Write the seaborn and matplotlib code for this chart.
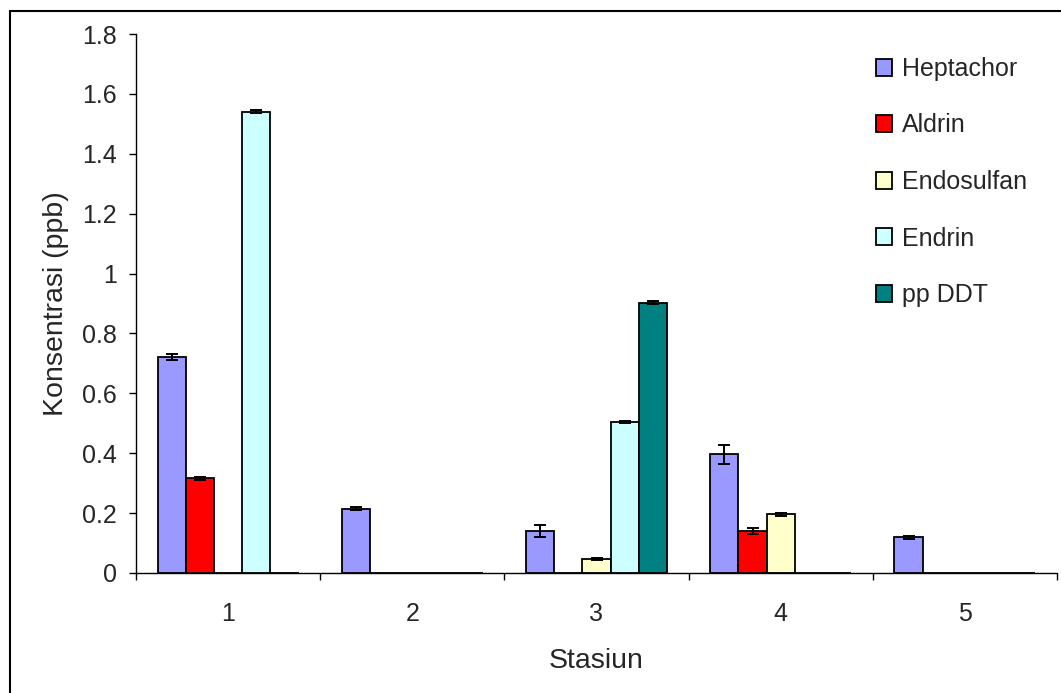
import matplotlib
matplotlib.use("Agg")
import matplotlib.pyplot as plt
import matplotlib.patches as mpatches
from matplotlib.ticker import FixedLocator, FuncFormatter
import pandas as pd
import seaborn as sns

# data
stasiun = ["1", "2", "3", "4", "5"]
pestisida = ["Heptachor", "Aldrin", "Endosulfan", "Endrin", "pp DDT"]
heptachor = [0.721, 0.214, 0.140, 0.397, 0.120]
aldrin = [0.316, 0.0, 0.0, 0.141, 0.0]
endosulfan = [0.0, 0.0, 0.047, 0.196, 0.0]
endrin = [1.54, 0.0, 0.503, 0.0, 0.0]
ppddt = [0.0, 0.0, 0.903, 0.0, 0.0]
# error (half range)
err_heptachor = [0.010, 0.005, 0.021, 0.032, 0.005]
err_aldrin = [0.006, 0.0, 0.0, 0.010, 0.0]
err_endosulfan = [0.0, 0.0, 0.003, 0.005, 0.0]
err_endrin = [0.005, 0.0, 0.003, 0.0, 0.0]
err_ppddt = [0.0, 0.0, 0.005, 0.0, 0.0]
warna = ["#9999FF", "#FF0000", "#FFFFCC", "#CCFFFF", "#008080"]

nilai = [heptachor, aldrin, endosulfan, endrin, ppddt]
galat = [err_heptachor, err_aldrin, err_endosulfan, err_endrin, err_ppddt]

rows = []
for p, vals in zip(pestisida, nilai):
    for s, v in zip(stasiun, vals):
        rows.append({"Stasiun": s, "Pestisida": p, "Konsentrasi": v})
dtf = pd.DataFrame(rows)

sns.set_style("white")
plt.rcParams["font.family"] = ["Liberation Sans", "DejaVu Sans"]

fig = plt.figure(figsize=(10.61, 6.93), dpi=100)
ax = fig.add_axes([136 / 1061, 1 - 573 / 693, (1057 - 136) / 1061, (573 - 34) / 693])

sns.barplot(data=dtf, x="Stasiun", y="Konsentrasi", hue="Pestisida",
            order=stasiun, hue_order=pestisida, palette=warna,
            width=0.765, gap=0, errorbar=None, edgecolor="black",
            linewidth=1.3, saturation=1, ax=ax, legend=False)

# error bars on top of the bars
for cont, errs in zip(ax.containers, galat):
    for bar, e in zip(cont, errs):
        if e > 0:
            ax.errorbar(bar.get_x() + bar.get_width() / 2, bar.get_height(), yerr=e,
                        fmt="none", ecolor="black", elinewidth=1.4,
                        capsize=4.5, capthick=1.4, zorder=5)

ax.set_xlim(-0.5, 4.5)
ax.set_ylim(0, 1.8)
ax.yaxis.set_major_locator(FixedLocator([i * 0.2 for i in range(10)]))
ax.yaxis.set_major_formatter(FuncFormatter(lambda v, pos: f"{v:g}"))
ax.xaxis.set_minor_locator(FixedLocator([-0.5, 0.5, 1.5, 2.5, 3.5, 4.5]))

ax.tick_params(axis="x", which="major", length=0, pad=21, labelsize=18)
ax.tick_params(axis="x", which="minor", length=5, width=1, direction="out", color="black", bottom=True)
ax.tick_params(axis="y", length=5, width=1, direction="out", color="black", pad=9, labelsize=18, left=True)

ax.set_xlabel("Stasiun", fontsize=20.5, labelpad=16)
ax.set_ylabel("Konsentrasi (ppb)", fontsize=20.5, labelpad=9)

sns.despine(ax=ax)
for sp in ["left", "bottom"]:
    ax.spines[sp].set_color("black")
    ax.spines[sp].set_linewidth(1.0)

handles = [mpatches.Patch(facecolor=c, edgecolor="black", linewidth=1.3, label=p)
           for p, c in zip(pestisida, warna)]
fig.legend(handles=handles, loc="upper left", bbox_to_anchor=(876 / 1061, 1 - 57 / 693),
           frameon=False, fontsize=18, handlelength=0.65, handleheight=0.65,
           handletextpad=0.4, labelspacing=1.3, borderpad=0, borderaxespad=0)

# outer chart border like the reference
fig.patches.append(mpatches.Rectangle((10 / 1061, -0.1), 1.2, 1.1 - 11 / 693,
                                      transform=fig.transFigure, fill=False,
                                      edgecolor="black", linewidth=1.5))

fig.savefig("out.png", dpi=100)
